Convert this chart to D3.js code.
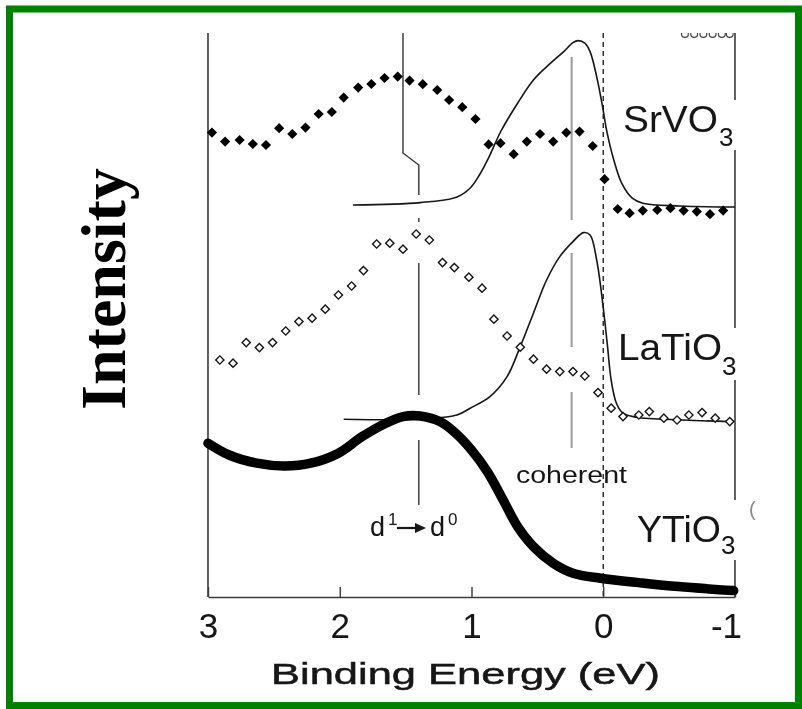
<!DOCTYPE html>
<html>
<head>
<meta charset="utf-8">
<script src="https://cdn.jsdelivr.net/npm/d3@7/dist/d3.min.js"></script>
<style>
  html, body { margin: 0; padding: 0; background: #fff; }
  svg { display: block; }
</style>
</head>
<body>
<svg id="chart" width="802" height="709"></svg>
<script>
// Photoemission spectra near the Fermi level: binding energy (eV) vs intensity (arb. units)
const energyTicks = [3, 2, 1, 0, -1];
const tickLabels = ["3", "2", "1", "0", "-1"];

// SrVO3 experimental points (filled diamonds)
const srvo3Points = [[2.97,232.2],[2.87,227.7],[2.76,228.5],[2.66,226.5],[2.56,226],[2.46,234.4],[2.36,231.5],[2.26,234.7],[2.16,241.5],[2.06,242.5],[1.97,249.7],[1.86,254.7],[1.76,256.5],[1.66,259.5],[1.56,260.2],[1.47,258.2],[1.37,256.4],[1.26,253.5],[1.17,248.5],[1.07,244.9],[0.97,239],[0.87,226.3],[0.78,226.9],[0.68,221.4],[0.58,227.7],[0.48,231.5],[0.38,227.7],[0.28,232.2],[0.18,232.7],[0.08,225.5],[-0.01,208.9],[-0.11,194],[-0.20,191.9],[-0.30,193.2],[-0.41,193.5],[-0.51,194.4],[-0.61,193.2],[-0.71,192.7],[-0.81,191.4],[-0.91,193.2]];
// SrVO3 calculated spectrum (solid line)
const srvo3Calc = [[1.90,196],[1.39,197.2],[1.11,200],[1.01,204.5],[0.94,211],[0.86,221],[0.78,232.5],[0.65,246.9],[0.53,258.5],[0.40,266.9],[0.30,272.7],[0.23,277.2],[0.19,278.2],[0.14,276.9],[0.10,272.7],[0.05,260.2],[0.01,246.9],[-0.03,231.9],[-0.08,218.5],[-0.14,206.9],[-0.22,199.4],[-0.30,196.9],[-0.58,195.5],[-1.0,195]];

// LaTiO3 experimental points (open diamonds)
const latio3Points = [[2.91,118.5],[2.81,116.9],[2.71,127.2],[2.61,124.7],[2.51,127.2],[2.41,133],[2.31,137.7],[2.21,139.4],[2.11,143.9],[2.01,151],[1.91,155.5],[1.82,163.2],[1.72,176.5],[1.62,176.9],[1.52,173.9],[1.42,181.5],[1.32,178.5],[1.22,167.2],[1.13,164.7],[1.02,159.9],[0.92,154.4],[0.83,138.9],[0.73,130.5],[0.63,124.9],[0.53,118.9],[0.43,113.9],[0.33,112.7],[0.23,112.7],[0.14,110.5],[0.04,102.2],[-0.06,94.4],[-0.15,90.2],[-0.27,91],[-0.35,92.7],[-0.46,89.4],[-0.56,88.5],[-0.65,91],[-0.75,92.2],[-0.85,89.4],[-0.96,87.7]];
// LaTiO3 calculated spectrum (solid line)
const latio3Calc = [[1.97,88.9],[1.39,88.9],[1.11,91],[1.01,94.4],[0.86,100.2],[0.73,110.2],[0.63,125.2],[0.53,141.9],[0.43,158.5],[0.33,170.2],[0.23,177.7],[0.15,182.2],[0.10,181],[0.05,168.5],[0.01,150.2],[-0.03,126.9],[-0.06,108.5],[-0.10,96.9],[-0.15,91.9],[-0.25,89.9],[-0.61,88.5],[-0.96,87.7]];

// YTiO3 experimental spectrum (dense points, drawn as a heavy trace)
const ytio3Points = [[3.00,76.9],[2.84,71],[2.63,66.9],[2.42,65.5],[2.22,66.9],[2.01,71.9],[1.83,80.2],[1.65,86.9],[1.52,90.2],[1.39,90.5],[1.24,87.7],[1.12,81.9],[1.00,73.5],[0.88,62.7],[0.76,48.5],[0.65,35.2],[0.53,25.2],[0.38,16.9],[0.23,11.9],[0.02,9.4],[-0.27,7.2],[-0.57,5.2],[-0.99,3.2]];

// Edge of the trace from the panel above, peeking in at the top
const upperTraceEnergies = [-0.62, -0.69, -0.76, -0.83, -0.90, -0.96];

// Reference energies
const fermiEnergy = 0;
const coherentEnergy = 0.24;
const d1d0UpperEnergy = 1.52;
const d1d0LowerEnergy = 1.40;

// Vertical extents (intensity units) of the marker segments
const coherentSpans = [[270, 188.5], [172, 125], [102.5, 74.5]];
const d1d0Spans = [[189.5, 187.5], [167, 101], [78.5, 46]];
const rightFrameSpans = [[282, 248.5], [223.5, 134.5], [108.5, 48.5], [18.5, 0]];

const svg = d3.select("#chart");
const W = 802, H = 709;

svg.append("rect").attr("width", W).attr("height", H).attr("fill", "#fff");

const x = d3.scaleLinear().domain([3, -1]).range([208, 735]);
const y = d3.scaleLinear().domain([0, 282]).range([597, 33]);

const defs = svg.append("defs");
defs.append("filter").attr("id", "soft")
  .append("feGaussianBlur").attr("stdDeviation", 0.45);
defs.append("clipPath").attr("id", "plotClip")
  .append("rect").attr("x", x(3)).attr("y", y(282)).attr("width", x(-1) - x(3) + 6).attr("height", y(0) - y(282));

const ink = "#151515";
const frameInk = "#3a3a3a";

const g = svg.append("g").attr("filter", "url(#soft)");

// frame: left edge, bottom axis, right edge (broken around labels)
g.append("line")
  .attr("x1", x(3)).attr("x2", x(3)).attr("y1", y(282)).attr("y2", y(0))
  .attr("stroke", frameInk).attr("stroke-width", 1.6);
rightFrameSpans.forEach(s => {
  g.append("line")
    .attr("x1", x(-1)).attr("x2", x(-1)).attr("y1", y(s[0])).attr("y2", y(s[1]))
    .attr("stroke", frameInk).attr("stroke-width", 1.6);
});

const xAxis = d3.axisBottom(x)
  .tickValues(energyTicks)
  .tickFormat((d, i) => tickLabels[i])
  .tickSizeInner(-10).tickSizeOuter(0).tickPadding(0);
const ax = g.append("g").attr("transform", `translate(0,${y(0)})`).call(xAxis);
ax.select(".domain").attr("stroke", frameInk).attr("stroke-width", 1.6);
ax.selectAll(".tick line").attr("stroke", frameInk).attr("stroke-width", 1.4);
ax.selectAll(".tick text")
  .attr("y", 41)
  .attr("dy", 0)
  .attr("dx", d => d === -1 ? -9 : 0)
  .attr("fill", ink)
  .attr("font-family", "'Liberation Sans', Arial, sans-serif")
  .attr("font-size", 35);

// Fermi level (dashed)
g.append("line")
  .attr("x1", x(fermiEnergy)).attr("x2", x(fermiEnergy))
  .attr("y1", y(282)).attr("y2", y(0))
  .attr("stroke", "#333").attr("stroke-width", 1.5)
  .attr("stroke-dasharray", "5,4");

// coherent-peak marker (grey)
coherentSpans.forEach(s => {
  g.append("line")
    .attr("x1", x(coherentEnergy)).attr("x2", x(coherentEnergy))
    .attr("y1", y(s[0])).attr("y2", y(s[1]))
    .attr("stroke", "#9a9a9a").attr("stroke-width", 2);
});

// d1 -> d0 marker
g.append("path")
  .attr("d", d3.line()([
    [x(d1d0UpperEnergy), y(282)], [x(d1d0UpperEnergy), y(222)],
    [x(d1d0LowerEnergy), y(216)], [x(d1d0LowerEnergy), y(201)]
  ]))
  .attr("fill", "none").attr("stroke", "#333").attr("stroke-width", 1.4);
d1d0Spans.forEach(s => {
  g.append("line")
    .attr("x1", x(d1d0LowerEnergy)).attr("x2", x(d1d0LowerEnergy))
    .attr("y1", y(s[0])).attr("y2", y(s[1]))
    .attr("stroke", "#333").attr("stroke-width", 1.4);
});

// calculated spectra
const line = d3.line().x(d => x(d[0])).y(d => y(d[1])).curve(d3.curveCatmullRom.alpha(0.5));
[srvo3Calc, latio3Calc].forEach(data => {
  g.append("path").datum(data)
    .attr("d", line)
    .attr("fill", "none").attr("stroke", ink).attr("stroke-width", 1.6);
});

// YTiO3 heavy trace
g.append("path").datum(ytio3Points)
  .attr("d", line)
  .attr("fill", "none").attr("stroke", "#000").attr("stroke-width", 9.5)
  .attr("stroke-linecap", "round").attr("stroke-linejoin", "round");

// SrVO3 filled diamonds
const diamondFilled = d3.symbol().type(d3.symbolSquare).size(52)();
g.append("g").selectAll("path").data(srvo3Points).join("path")
  .attr("d", diamondFilled)
  .attr("transform", d => `translate(${x(d[0])},${y(d[1])}) rotate(45)`)
  .attr("fill", "#000");

// LaTiO3 open diamonds
const diamondOpen = d3.symbol().type(d3.symbolSquare).size(34)();
g.append("g").selectAll("path").data(latio3Points).join("path")
  .attr("d", diamondOpen)
  .attr("transform", d => `translate(${x(d[0])},${y(d[1])}) rotate(45)`)
  .attr("fill", "#fff").attr("stroke", ink).attr("stroke-width", 1.4);

// edge of the upper panel's trace
g.append("g").attr("clip-path", "url(#plotClip)")
  .selectAll("circle").data(upperTraceEnergies).join("circle")
  .attr("cx", d => x(d)).attr("cy", y(282) + 1)
  .attr("r", 3.4)
  .attr("fill", "none").attr("stroke", "#444").attr("stroke-width", 1.2);

// labels
const sans = "'Liberation Sans', Arial, Helvetica, sans-serif";
function compound(base, x0, baseY, len, subX, subY) {
  g.append("text").attr("x", x0).attr("y", baseY)
    .attr("font-family", sans).attr("font-size", 37).attr("fill", ink)
    .attr("textLength", len).attr("lengthAdjust", "spacingAndGlyphs")
    .text(base);
  g.append("text").attr("x", subX).attr("y", subY)
    .attr("font-family", sans).attr("font-size", 26).attr("fill", ink)
    .text("3");
}
compound("SrVO", 623, 132, 95, 719, 146);
compound("LaTiO", 618, 360, 104, 722, 375);
compound("YTiO", 637, 542, 84, 721, 554);

g.append("text").attr("x", 516).attr("y", 483)
  .attr("font-family", sans).attr("font-size", 23).attr("fill", ink)
  .attr("textLength", 111).attr("lengthAdjust", "spacingAndGlyphs")
  .text("coherent");

// d1 -> d0
g.append("text").attr("x", 370).attr("y", 536)
  .attr("font-family", sans).attr("font-size", 27).attr("fill", ink).text("d");
g.append("text").attr("x", 388).attr("y", 525)
  .attr("font-family", sans).attr("font-size", 17).attr("fill", ink).text("1");
g.append("text").attr("x", 430).attr("y", 536)
  .attr("font-family", sans).attr("font-size", 27).attr("fill", ink).text("d");
g.append("text").attr("x", 448).attr("y", 525)
  .attr("font-family", sans).attr("font-size", 17).attr("fill", ink).text("0");
g.append("line").attr("x1", 397).attr("x2", 417).attr("y1", 528).attr("y2", 528)
  .attr("stroke", ink).attr("stroke-width", 2.2);
g.append("path").attr("d", "M415,523 L426,528 L415,533 Z").attr("fill", ink);

// stray glyph from the neighbouring panel
g.append("text").attr("x", 749).attr("y", 516)
  .attr("font-family", sans).attr("font-size", 20).attr("fill", "#888").text("(");

// axis title
g.append("text").attr("x", 271).attr("y", 684)
  .attr("font-family", sans).attr("font-size", 30).attr("fill", ink)
  .attr("stroke", ink).attr("stroke-width", 0.5)
  .attr("textLength", 389).attr("lengthAdjust", "spacingAndGlyphs")
  .text("Binding Energy (eV)");

// y-axis title
svg.append("text")
  .attr("transform", "translate(125,289) rotate(-90)")
  .attr("text-anchor", "middle")
  .attr("font-family", "'Liberation Serif', 'Times New Roman', serif")
  .attr("font-weight", "bold").attr("font-size", 64).attr("fill", "#000")
  .text("Intensity");

// outer frame
svg.append("rect")
  .attr("x", 9.5).attr("y", 9).attr("width", 789).attr("height", 696.5)
  .attr("fill", "none").attr("stroke", "#008000").attr("stroke-width", 7);
</script>
</body>
</html>
